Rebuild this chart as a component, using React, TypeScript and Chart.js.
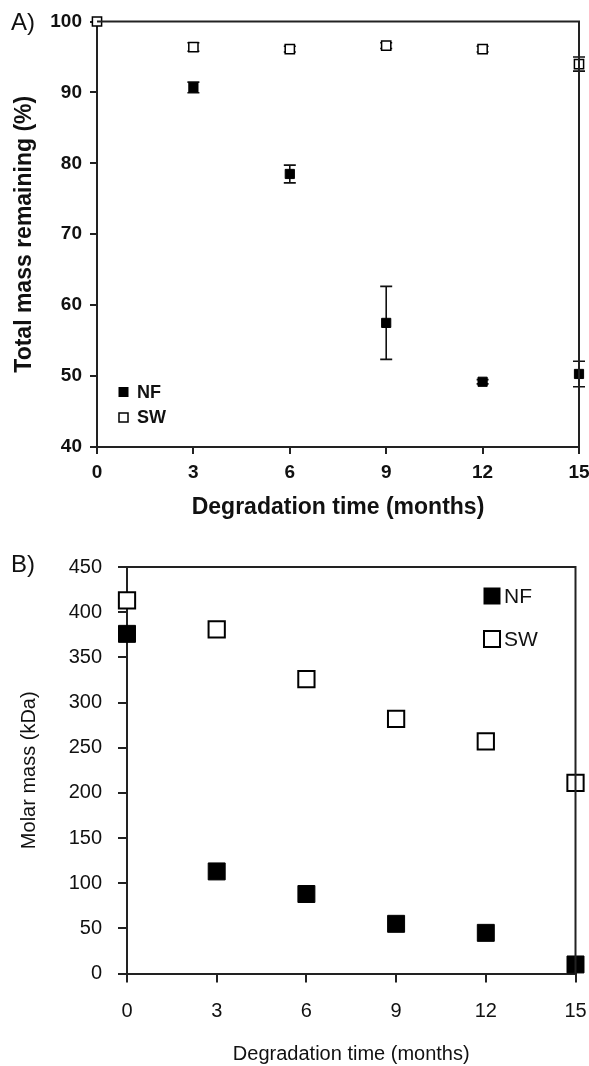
import React, { useEffect, useRef } from "react";
import { Chart, registerables } from "chart.js";
Chart.register(...registerables);

const FONT = "'Liberation Sans', Arial, Helvetica, sans-serif";

// ---- data ----
const months = [0, 3, 6, 9, 12, 15];
const seriesLabels = ["NF", "SW"];

// Panel A: total mass remaining (%)
const massNF: (number | null)[] = [null, 90.7, 78.5, 57.5, 49.2, 50.3];
const massNFErr = [0, 0.75, 1.25, 5.15, 0.3, 1.8];
const massSW = [100, 96.4, 96.1, 96.6, 96.1, 94.0];
const massSWErr = [0, 0.6, 0.4, 0.4, 0.4, 1.0];

// Panel B: molar mass (kDa)
const molarNF = [376, 113, 88, 55, 45, 10];
const molarSW = [413, 381, 326, 282, 257, 211];

const AXIS = "#222";

const W = 589;
const HA = 535;
const HB = 531;

const errorBarPlugin = {
  id: "errorBars",
  beforeDatasetsDraw(chart: any) {
    const { ctx } = chart;
    const ys = chart.scales.y;
    chart.data.datasets.forEach((ds: any, i: number) => {
      if (!ds.errors) return;
      const meta = chart.getDatasetMeta(i);
      meta.data.forEach((pt: any, j: number) => {
        const raw = ds.data[j];
        const e = ds.errors[j];
        if (!raw || raw.y == null || !e) return;
        const top = ys.getPixelForValue(raw.y + e);
        const bot = ys.getPixelForValue(raw.y - e);
        const x = pt.x;
        const cap = ds.capHalf || 6;
        ctx.save();
        ctx.strokeStyle = "#111";
        ctx.lineWidth = 1.6;
        ctx.beginPath();
        ctx.moveTo(x, top);
        ctx.lineTo(x, bot);
        ctx.moveTo(x - cap, top);
        ctx.lineTo(x + cap, top);
        ctx.moveTo(x - cap, bot);
        ctx.lineTo(x + cap, bot);
        ctx.stroke();
        ctx.restore();
      });
    });
  },
};

const framePlugin = {
  id: "frame",
  afterDraw(chart: any, _args: any, opts: any) {
    const { ctx, chartArea } = chart;
    ctx.save();
    ctx.strokeStyle = AXIS;
    ctx.lineWidth = opts.width || 2;
    ctx.beginPath();
    ctx.moveTo(chartArea.left, chartArea.top);
    ctx.lineTo(chartArea.right, chartArea.top);
    ctx.lineTo(chartArea.right, chartArea.bottom);
    ctx.stroke();
    ctx.restore();
  },
};

const panelLegendPlugin = {
  id: "panelLegend",
  afterDraw(chart: any, _args: any, opts: any) {
    const { ctx } = chart;
    ctx.save();
    // panel label
    ctx.fillStyle = "#111";
    ctx.font = `${opts.panelFont}`;
    ctx.textBaseline = "middle";
    ctx.textAlign = "left";
    ctx.fillText(opts.panel, opts.panelX, opts.panelY);
    // legend
    chart.data.datasets.forEach((ds: any, i: number) => {
      const cx = opts.x;
      const cy = opts.y + i * opts.gap;
      const s = opts.size;
      ctx.fillStyle = ds.backgroundColor;
      ctx.fillRect(cx - s / 2, cy - s / 2, s, s);
      ctx.strokeStyle = ds.borderColor;
      ctx.lineWidth = ds.borderWidth;
      ctx.strokeRect(cx - s / 2, cy - s / 2, s, s);
      ctx.fillStyle = "#111";
      ctx.font = opts.font;
      ctx.textBaseline = "middle";
      ctx.textAlign = "left";
      ctx.fillText(ds.label, opts.textX, cy + 1);
    });
    ctx.restore();
  },
};

function pts(ys: (number | null)[]) {
  return months.map((m, i) => ({ x: m, y: ys[i] }));
}

function makeA(canvas: HTMLCanvasElement) {
  const tickFont = { family: FONT, size: 19, weight: "bold" as const };
  const titleFont = { family: FONT, size: 23, weight: "bold" as const };
  return new Chart(canvas, {
    type: "scatter",
    data: {
      datasets: [
        {
          label: seriesLabels[0],
          data: pts(massNF),
          errors: massNFErr,
          pointStyle: "rect",
          pointRadius: 6.5,
          backgroundColor: "#000",
          borderColor: "#000",
          borderWidth: 1,
          clip: false,
        } as any,
        {
          label: seriesLabels[1],
          data: pts(massSW),
          errors: massSWErr,
          pointStyle: "rect",
          pointRadius: 6.5,
          backgroundColor: "#fff",
          borderColor: "#000",
          borderWidth: 1.5,
          clip: false,
        } as any,
      ],
    },
    options: {
      responsive: false,
      animation: false,
      layout: { padding: { top: 21.5, right: 10, left: 0, bottom: 0 } },
      plugins: {
        legend: { display: false },
        tooltip: { enabled: false },
        frame: { width: 2 },
        panelLegend: {
          panel: "A)",
          panelFont: `24px ${FONT}`,
          panelX: 11,
          panelY: 23,
          x: 123.5,
          y: 392,
          gap: 25.5,
          size: 9,
          textX: 137,
          font: `bold 18px ${FONT}`,
        },
      } as any,
      scales: {
        x: {
          type: "linear",
          min: 0,
          max: 15,
          ticks: { stepSize: 3, font: tickFont, color: "#111", padding: 7 },
          grid: { drawOnChartArea: false, drawTicks: true, tickLength: 7, color: AXIS, lineWidth: 2 },
          border: { color: AXIS, width: 2 },
          title: {
            display: true,
            text: "Degradation time (months)",
            font: titleFont,
            color: "#111",
            padding: { top: 0, bottom: 13.2 },
          },
          afterFit: (s: any) => {
            s.height = HA - 447;
            s.paddingRight = 0;
            s.paddingLeft = 0;
          },
        },
        y: {
          min: 40,
          max: 100,
          ticks: { stepSize: 10, font: tickFont, color: "#111", padding: 8 },
          grid: { drawOnChartArea: false, drawTicks: true, tickLength: 7, color: AXIS, lineWidth: 2 },
          border: { color: AXIS, width: 2 },
          title: {
            display: true,
            text: "Total mass remaining (%)",
            font: titleFont,
            color: "#111",
            padding: { top: 11.2, bottom: 0 },
          },
          afterFit: (s: any) => {
            s.width = 97;
            s.paddingTop = 0;
            s.paddingBottom = 0;
          },
        },
      },
    },
    plugins: [errorBarPlugin, framePlugin, panelLegendPlugin],
  });
}

function makeB(canvas: HTMLCanvasElement) {
  const tickFont = { family: FONT, size: 20 };
  const titleFont = { family: FONT, size: 20 };
  return new Chart(canvas, {
    type: "scatter",
    data: {
      datasets: [
        {
          label: seriesLabels[0],
          data: pts(molarNF),
          pointStyle: "rect",
          pointRadius: 12,
          backgroundColor: "#000",
          borderColor: "#000",
          borderWidth: 1,
          clip: false,
        } as any,
        {
          label: seriesLabels[1],
          data: pts(molarSW),
          pointStyle: "rect",
          pointRadius: 11.5,
          backgroundColor: "#fff",
          borderColor: "#000",
          borderWidth: 2,
          clip: false,
        } as any,
      ],
    },
    options: {
      responsive: false,
      animation: false,
      layout: { padding: { top: 32, right: 12, left: 0, bottom: 0 } },
      plugins: {
        legend: { display: false },
        tooltip: { enabled: false },
        frame: { width: 2 },
        panelLegend: {
          panel: "B)",
          panelFont: `24px ${FONT}`,
          panelX: 11,
          panelY: 30,
          x: 492,
          y: 61,
          gap: 43,
          size: 16,
          textX: 504,
          font: `21px ${FONT}`,
        },
      } as any,
      scales: {
        x: {
          type: "linear",
          min: 0,
          max: 15,
          ticks: { stepSize: 3, font: tickFont, color: "#111", padding: 17 },
          grid: { drawOnChartArea: false, drawTicks: true, tickLength: 9, color: AXIS, lineWidth: 2 },
          border: { color: AXIS, width: 2 },
          title: {
            display: true,
            text: "Degradation time (months)",
            font: titleFont,
            color: "#111",
            padding: { top: 0, bottom: 0 },
          },
          afterFit: (s: any) => {
            s.height = HB - 438.5;
            s.paddingRight = 0;
            s.paddingLeft = 0;
          },
        },
        y: {
          min: 0,
          max: 450,
          ticks: { stepSize: 50, font: tickFont, color: "#111", padding: 16 },
          grid: { drawOnChartArea: false, drawTicks: true, tickLength: 9, color: AXIS, lineWidth: 2 },
          border: { color: AXIS, width: 2 },
          title: {
            display: true,
            text: "Molar mass (kDa)",
            font: titleFont,
            color: "#111",
            padding: { top: 17, bottom: 0 },
          },
          afterFit: (s: any) => {
            s.width = 127;
            s.paddingTop = 0;
            s.paddingBottom = 0;
          },
        },
      },
    },
    plugins: [framePlugin, panelLegendPlugin],
  });
}

export default function App() {
  const refA = useRef<HTMLCanvasElement>(null);
  const refB = useRef<HTMLCanvasElement>(null);
  useEffect(() => {
    const a = makeA(refA.current!);
    const b = makeB(refB.current!);
    return () => {
      a.destroy();
      b.destroy();
    };
  }, []);
  return (
    <div style={{ position: "absolute", left: 0, top: 0, width: W, height: HA + HB, background: "#fff" }}>
      <canvas ref={refA} width={W} height={HA} style={{ position: "absolute", left: 0, top: 0, width: W, height: HA }} />
      <canvas ref={refB} width={W} height={HB} style={{ position: "absolute", left: 0, top: HA, width: W, height: HB }} />
    </div>
  );
}
